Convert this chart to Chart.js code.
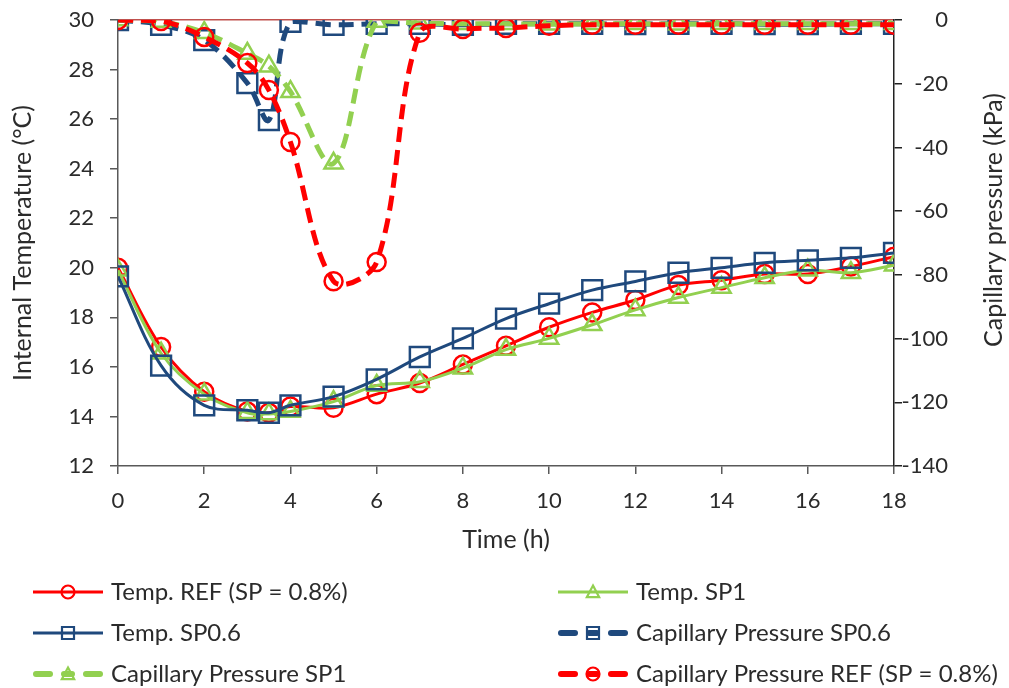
<!DOCTYPE html>
<html>
<head>
<meta charset="utf-8">
<script src="https://cdn.jsdelivr.net/npm/chart.js"></script>
<style>
  html, body { margin: 0; padding: 0; background: #fff; }
  #wrap { width: 1009px; height: 688px; position: relative; }
</style>
</head>
<body>
<div id="wrap"><canvas id="chart"></canvas></div>
<script>
// time steps (h) shared by every series
const timeH = [0, 1, 2, 3, 3.5, 4, 5, 6, 7, 8, 9, 10, 11, 12, 13, 14, 15, 16, 17, 18];

// internal temperature (°C)
const tempRef  = [20.0, 16.8, 15.0, 14.2, 14.15, 14.4, 14.35, 14.9, 15.35, 16.1, 16.85, 17.6, 18.2, 18.7, 19.3, 19.5, 19.75, 19.75, 20.05, 20.45];
const tempSP1  = [19.9, 16.55, 14.9, 14.15, 14.1, 14.2, 14.6, 15.25, 15.4, 15.95, 16.7, 17.15, 17.7, 18.3, 18.8, 19.2, 19.6, 19.9, 19.8, 20.1];
const tempSP06 = [19.65, 16.05, 14.45, 14.25, 14.15, 14.45, 14.8, 15.5, 16.4, 17.15, 17.95, 18.55, 19.1, 19.45, 19.8, 20.0, 20.2, 20.3, 20.4, 20.6];

// capillary pressure (kPa)
const capSP06 = [0, -1.5, -6.3, -19.8, -31.4, -0.6, -1.5, -1.2, -1.2, -1.5, -1.2, -1.2, -1.2, -1.3, -1.2, -1.2, -1.3, -1.3, -1.2, -1.2];
const capSP1  = [0, -0.5, -4.0, -10.5, -14.5, -22.5, -45.0, -0.5, -1.0, -1.2, -1.2, -1.3, -1.2, -1.2, -1.3, -1.2, -1.2, -1.2, -1.2, -1.2];
const capRef  = [0, -0.3, -5.3, -13.5, -22.0, -38.3, -82.0, -76.0, -4.0, -2.8, -2.5, -1.8, -1.5, -1.5, -1.5, -1.5, -1.5, -1.5, -1.5, -1.5];

// axis ticks
const tempTicks = [12, 14, 16, 18, 20, 22, 24, 26, 28, 30];
const capTicks = [-140, -120, -100, -80, -60, -40, -20, 0];
const timeTicks = [0, 2, 4, 6, 8, 10, 12, 14, 16, 18];

const RED = "#FF0000";
const GREEN = "#92D050";
const BLUE = "#1F497D";
const TEXT = "#2b2b2b";
const FONT = "Lato";

const pts = (ys) => ys.map((y, i) => ({ x: timeH[i], y: y }));

Chart.defaults.font.family = FONT;
Chart.defaults.font.size = 22;
Chart.defaults.color = TEXT;

function tempSeries(label, ys, color, style, radius, order) {
  return {
    label: label, data: pts(ys), yAxisID: "y", order: order,
    borderColor: color, borderWidth: 3, tension: 0.35,
    pointStyle: style, pointRadius: radius, pointBorderWidth: 2.5,
    pointBorderColor: color, pointBackgroundColor: "rgba(0,0,0,0)",
    dashed: false,
  };
}
function capSeries(label, ys, color, style, radius, order) {
  return {
    label: label, data: pts(ys), yAxisID: "y2", order: order,
    borderColor: color, borderWidth: 5, borderDash: [15, 8], tension: 0.35,
    pointStyle: style, pointRadius: radius, pointBorderWidth: 2.5,
    pointBorderColor: color, pointBackgroundColor: "rgba(0,0,0,0)",
    dashed: true,
  };
}

// marker for the legend
function drawMarker(ctx, style, x, y, r, color) {
  ctx.save();
  ctx.setLineDash([]);
  ctx.strokeStyle = color;
  ctx.lineWidth = 2.2;
  ctx.beginPath();
  if (style === "circle") {
    ctx.arc(x, y, r, 0, Math.PI * 2);
  } else if (style === "rect") {
    ctx.rect(x - r, y - r, 2 * r, 2 * r);
  } else {
    ctx.moveTo(x, y - r);
    ctx.lineTo(x + r * 0.95, y + r * 0.8);
    ctx.lineTo(x - r * 0.95, y + r * 0.8);
    ctx.closePath();
  }
  ctx.stroke();
  ctx.restore();
}

const legendBelow = {
  id: "legendBelow",
  afterDraw(chart) {
    const ctx = chart.ctx;
    const cols = [33, 558];
    const rows = [592, 633, 674];
    ctx.save();
    chart.data.datasets.forEach((ds, i) => {
      const x0 = cols[i % 2];
      const y = rows[Math.floor(i / 2)];
      ctx.strokeStyle = ds.borderColor;
      ctx.setLineDash([]);
      if (ds.dashed) {
        ctx.lineWidth = 6;
        ctx.lineCap = "round";
        [[x0 + 3, x0 + 17], [x0 + 31, x0 + 39], [x0 + 53, x0 + 67]].forEach(([a, b]) => {
          ctx.beginPath(); ctx.moveTo(a, y); ctx.lineTo(b, y); ctx.stroke();
        });
      } else {
        ctx.lineWidth = 3;
        ctx.lineCap = "butt";
        ctx.beginPath(); ctx.moveTo(x0, y); ctx.lineTo(x0 + 70, y); ctx.stroke();
      }
      const r = ds.pointStyle === "rect" ? 6 : 6.5;
      drawMarker(ctx, ds.pointStyle, x0 + 35, y, r, ds.borderColor);
      ctx.fillStyle = TEXT;
      ctx.font = "24px " + FONT;
      ctx.textAlign = "left";
      ctx.textBaseline = "middle";
      ctx.fillText(ds.label, x0 + 78, y);
    });
    // right axis title, reading upwards like the left one
    ctx.font = "25px " + FONT;
    ctx.translate(994, 220);
    ctx.rotate(-Math.PI / 2);
    ctx.textAlign = "center";
    ctx.textBaseline = "middle";
    ctx.fillText("Capillary pressure (kPa)", 0, 0);
    ctx.restore();
  },
};

// keep the vertical axes from pushing the plot area down
const noVPad = (s, w) => { s.width = w; s.paddingTop = 0; s.paddingBottom = 0; };

new Chart(document.getElementById("chart"), {
  type: "line",
  data: {
    datasets: [
      tempSeries("Temp. REF (SP = 0.8%)", tempRef, RED, "circle", 9, 5),
      tempSeries("Temp. SP1", tempSP1, GREEN, "triangle", 10.5, 4),
      tempSeries("Temp. SP0.6", tempSP06, BLUE, "rect", 14, 3),
      capSeries("Capillary Pressure SP0.6", capSP06, BLUE, "rect", 14, 2),
      capSeries("Capillary Pressure SP1", capSP1, GREEN, "triangle", 10.5, 1),
      capSeries("Capillary Pressure REF (SP = 0.8%)", capRef, RED, "circle", 9, 0),
    ],
  },
  options: {
    responsive: true,
    maintainAspectRatio: false,
    animation: false,
    layout: { padding: { top: 20, bottom: 128, left: 0, right: 61 } },
    plugins: {
      legend: { display: false },
      tooltip: { enabled: false },
    },
    scales: {
      x: {
        type: "linear", position: "bottom", min: 0, max: 18,
        afterBuildTicks: (s) => { s.ticks = timeTicks.map((v) => ({ value: v })); },
        afterFit: (s) => { s.height = 94; },
        ticks: { padding: 14, color: TEXT },
        grid: { drawOnChartArea: false, drawTicks: true, tickLength: 8, color: "#595959", lineWidth: 1.5 },
        border: { color: "#595959", width: 1.5 },
        title: { display: true, text: "Time (h)", color: TEXT, font: { size: 25 }, padding: { top: 0, bottom: 5 } },
      },
      y: {
        position: "left", min: 12, max: 30,
        afterBuildTicks: (s) => { s.ticks = tempTicks.map((v) => ({ value: v })); },
        afterFit: (s) => noVPad(s, 118),
        ticks: { padding: 16, color: TEXT },
        grid: { drawOnChartArea: false, drawTicks: true, tickLength: 8, color: "#595959", lineWidth: 1.5 },
        border: { color: "#595959", width: 1.5 },
        title: { display: true, text: "Internal Temperature (°C)", color: TEXT, font: { size: 25 }, padding: { top: 8, bottom: 0 } },
      },
      y2: {
        position: "right", min: -140, max: 0,
        afterBuildTicks: (s) => { s.ticks = capTicks.map((v) => ({ value: v })); },
        afterFit: (s) => noVPad(s, 54),
        ticks: { padding: 6, crossAlign: "far", color: TEXT },
        grid: {
          drawOnChartArea: true, drawTicks: true, tickLength: 8, lineWidth: 1.5,
          color: (c) => (c.tick && c.tick.value === 0 ? "#C0504D" : "rgba(0,0,0,0)"),
          tickColor: "#222",
        },
        border: { color: "#222", width: 1.5 },
        title: { display: false },
      },
    },
  },
  plugins: [legendBelow],
});
</script>
</body>
</html>
